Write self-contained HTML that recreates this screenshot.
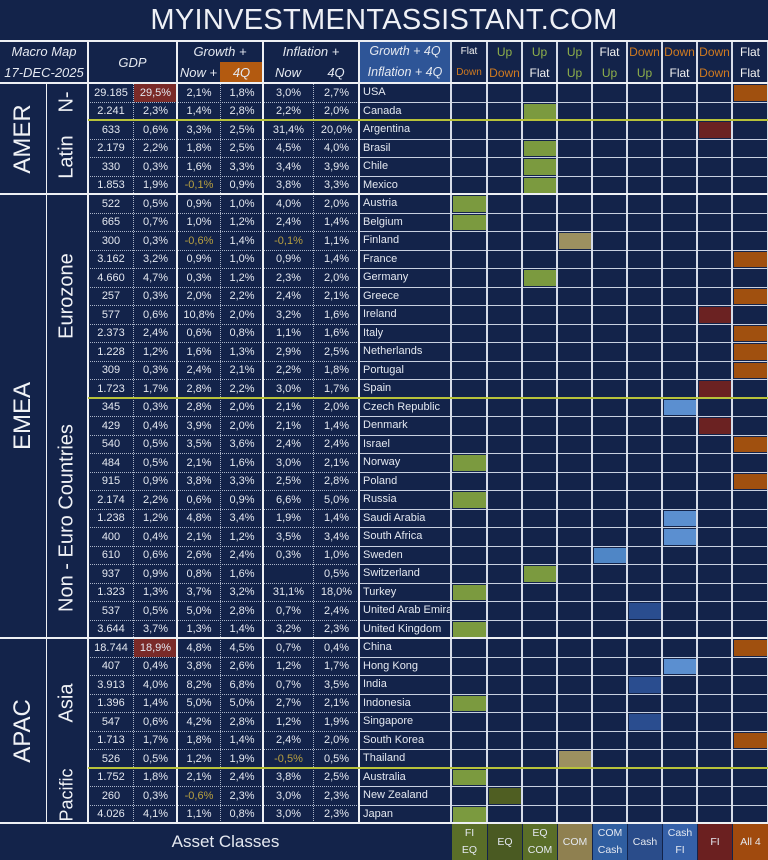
<!DOCTYPE html>
<html><head><meta charset="utf-8">
<style>
html,body{margin:0;padding:0;background:#13234a;}
#root{position:relative;width:768px;height:860px;overflow:hidden;background:#13234a;font-family:"Liberation Sans",sans-serif;color:#e4e8f0;}
.a{position:absolute;box-sizing:border-box;}
.c{display:flex;align-items:center;justify-content:center;}
</style></head><body>
<div id="root">
<div class="a c" style="left:0;top:0;width:768px;height:40px;font-size:29px;letter-spacing:0.3px;color:#eef0f6;">MYINVESTMENTASSISTANT.COM</div>
</div>
<script>
const countries=["USA","Canada","Argentina","Brasil","Chile","Mexico","Austria","Belgium","Finland","France","Germany","Greece","Ireland","Italy","Netherlands","Portugal","Spain","Czech Republic","Denmark","Israel","Norway","Poland","Russia","Saudi Arabia","South Africa","Sweden","Switzerland","Turkey","United Arab Emirat","United Kingdom","China","Hong Kong","India","Indonesia","Singapore","South Korea","Thailand","Australia","New Zealand","Japan"];
const gdp=["29.185","2.241","633","2.179","330","1.853","522","665","300","3.162","4.660","257","577","2.373","1.228","309","1.723","345","429","540","484","915","2.174","1.238","400","610","937","1.323","537","3.644","18.744","407","3.913","1.396","547","1.713","526","1.752","260","4.026"];
const share=["29,5%","2,3%","0,6%","2,2%","0,3%","1,9%","0,5%","0,7%","0,3%","3,2%","4,7%","0,3%","0,6%","2,4%","1,2%","0,3%","1,7%","0,3%","0,4%","0,5%","0,5%","0,9%","2,2%","1,2%","0,4%","0,6%","0,9%","1,3%","0,5%","3,7%","18,9%","0,4%","4,0%","1,4%","0,6%","1,7%","0,5%","1,8%","0,3%","4,1%"];
const growthNow=["2,1%","1,4%","3,3%","1,8%","1,6%","-0,1%","0,9%","1,0%","-0,6%","0,9%","0,3%","2,0%","10,8%","0,6%","1,6%","2,4%","2,8%","2,8%","3,9%","3,5%","2,1%","3,8%","0,6%","4,8%","2,1%","2,6%","0,8%","3,7%","5,0%","1,3%","4,8%","3,8%","8,2%","5,0%","4,2%","1,8%","1,2%","2,1%","-0,6%","1,1%"];
const growth4Q=["1,8%","2,8%","2,5%","2,5%","3,3%","0,9%","1,0%","1,2%","1,4%","1,0%","1,2%","2,2%","2,0%","0,8%","1,3%","2,1%","2,2%","2,0%","2,0%","3,6%","1,6%","3,3%","0,9%","3,4%","1,2%","2,4%","1,6%","3,2%","2,8%","1,4%","4,5%","2,6%","6,8%","5,0%","2,8%","1,4%","1,9%","2,4%","2,3%","0,8%"];
const inflNow=["3,0%","2,2%","31,4%","4,5%","3,4%","3,8%","4,0%","2,4%","-0,1%","0,9%","2,3%","2,4%","3,2%","1,1%","2,9%","2,2%","3,0%","2,1%","2,1%","2,4%","3,0%","2,5%","6,6%","1,9%","3,5%","0,3%","","31,1%","0,7%","3,2%","0,7%","1,2%","0,7%","2,7%","1,2%","2,4%","-0,5%","3,8%","3,0%","3,0%"];
const infl4Q=["2,7%","2,0%","20,0%","4,0%","3,9%","3,3%","2,0%","1,4%","1,1%","1,4%","2,0%","2,1%","1,6%","1,6%","2,5%","1,8%","1,7%","2,0%","1,4%","2,4%","2,1%","2,8%","5,0%","1,4%","3,4%","1,0%","0,5%","18,0%","2,4%","2,3%","0,4%","1,7%","3,5%","2,1%","1,9%","2,0%","0,5%","2,5%","2,3%","2,3%"];
const regime=[8,2,7,2,2,2,0,0,3,8,2,8,7,8,8,8,7,6,7,8,0,8,0,6,6,4,2,0,5,0,8,6,5,0,5,8,3,0,1,0];
const hdrTop=["Flat","Up","Up","Up","Flat","Down","Down","Down","Flat"];
const hdrBot=["Down","Down","Flat","Up","Up","Up","Flat","Down","Flat"];
const footTop=["FI","EQ","EQ","COM","COM","Cash","Cash","FI","All 4"];
const footBot=["EQ","","COM","","Cash","","FI","",""];

const root=document.getElementById('root');
const TOP=83,RH=740/40,NR=40;
const numX=[88,133,177,220,263,313,359];
const flagX=[451,487,522,557,592,627,662,697,732,768];
const cellCol=["#7b9a3f","#4f5e22","#7b9a3f","#9c9060","#4f86c6","#2a4d8f","#5b8fd0","#6b2222","#a0500f"];
const footCol=["#5a6e28","#4a5a22","#5a6e28","#8f8050","#2f5ea0","#2a4c8a","#3560a8","#6b2020","#a04a0e"];
const wordCol=w=>w==="Up"?"#8fb04a":w==="Down"?"#d07a20":"#f2f2f2";
const rowY=i=>TOP+i*RH;
function box(x,y,w,h,css){const d=document.createElement('div');d.className='a';d.style.cssText=`left:${x}px;top:${y}px;width:${w}px;height:${h}px;`+(css||'');root.appendChild(d);return d;}

let d;
d=box(0,41,88,42,'font-size:13px;font-style:italic;line-height:21px;text-align:center;');d.innerHTML="Macro Map<br>17-DEC-2025";


d=box(88,41,89,42,'font-size:13px;font-style:italic;');d.classList.add('c');d.textContent="GDP";


d=box(177,41,86,21,'font-size:13px;font-style:italic;');d.classList.add('c');d.textContent="Growth +";


d=box(177,62,43,21,'font-size:13px;font-style:italic;');d.classList.add('c');d.textContent="Now +";


d=box(220,62,43,21,'font-size:13px;font-style:italic;background:#b35a10;');d.classList.add('c');d.textContent="4Q";


d=box(263,41,96,21,'font-size:13px;font-style:italic;');d.classList.add('c');d.textContent="Inflation +";


d=box(263,62,50,21,'font-size:13px;font-style:italic;');d.classList.add('c');d.textContent="Now";


d=box(313,62,46,21,'font-size:13px;font-style:italic;');d.classList.add('c');d.textContent="4Q";


d=box(359,41,92,42,'font-size:12.5px;font-style:italic;line-height:21px;text-align:center;background:#2e5597;');d.innerHTML="Growth + 4Q<br>Inflation + 4Q";


for(let j=0;j<9;j++){
  const x=flagX[j],w=flagX[j+1]-x;
  d=box(x,41,w,21,`font-size:${j==0?10:12}px;color:${wordCol(hdrTop[j])};`);d.classList.add('c');d.textContent=hdrTop[j];
  
  
  d=box(x,62,w,21,`font-size:${j==0?10:12}px;color:${wordCol(hdrBot[j])};`);d.classList.add('c');d.textContent=hdrBot[j];
  
  
}

const cols=[gdp,share,growthNow,growth4Q,inflNow,infl4Q];
for(let i=0;i<NR;i++){
  const y=rowY(i);
  for(let k=0;k<6;k++){
    const v=cols[k][i];
    let css='font-size:11px;';
    if(v.startsWith('-'))css+='color:#b8a040;';
    if(k==1&&(i==0||i==30))css+='background:#7a2a28;';
    d=box(numX[k]+1,y+1,numX[k+1]-numX[k]-1,RH-1,css);d.classList.add('c');d.textContent=v;
    
    
  }
  d=box(360,y,91,RH,'font-size:11px;display:flex;align-items:center;padding-left:3px;white-space:nowrap;overflow:hidden;');d.textContent=countries[i];
  
  
  const j=regime[i];
  d=box(flagX[j]+2,y+2,flagX[j+1]-flagX[j]-3,RH-3,'background:'+cellCol[j]+';');
  
  
}
for(let i=0;i<=NR;i++){
  const y=Math.round(rowY(i));
  box(88,y,271,1,'border-top:1px dotted #aab4c8;');
  box(359,y,409,1,'background:#c8d0e0;');
}
for(let k=1;k<6;k++)box(numX[k],TOP,1,740,'border-left:1px dotted #aab4c8;');
for(let j=0;j<flagX.length;j++)box(flagX[j]-1,41,2,782,'background:#d6dce8;');
box(0,40,768,2,'background:#eef0f4;');
box(0,82,768,2,'background:#eef0f4;');
box(0,822,768,2,'background:#eef0f4;');
[88,177,263,359].forEach(x=>box(x-1,41,2,782,'background:#eef0f4;'));
box(46,TOP,1,740,'background:#eef0f4;');
[2,17,37].forEach(i=>box(88,Math.round(rowY(i))-1,680,2,'background:#b8c23a;'));
[6,30].forEach(i=>box(0,Math.round(rowY(i))-1,768,2,'background:#eef0f4;'));
const regions=[["AMER",0,6,0,46,24],["EMEA",6,30,0,46,24],["APAC",30,40,0,46,24],["N-",0,2,46,42,20],["Latin",2,6,46,42,20],["Eurozone",6,17,46,42,20],["Non - Euro Countries",17,30,46,42,20],["Asia",30,37,46,42,20],["Pacific",37,40,46,42,18]];
regions.forEach(r=>{
  const y0=rowY(r[1]),h=rowY(r[2])-y0;
  const o=box(r[3],y0,r[4],h,'');
  
  
  const s=document.createElement('div');
  s.style.cssText=`position:absolute;left:50%;top:50%;transform:translate(-50%,-50%) rotate(-90deg);white-space:nowrap;font-size:${r[5]}px;color:#f0f2f6;`;
  s.textContent=r[0];o.appendChild(s);
});
d=box(0,824,451,36,'font-size:17px;');d.classList.add('c');d.textContent="Asset Classes";


for(let j=0;j<9;j++){
  const x=flagX[j],w=flagX[j+1]-x-1;
  d=box(x+1,824,w,36,'background:'+footCol[j]+';font-size:10.5px;line-height:17px;text-align:center;flex-direction:column;');d.classList.add('c');
  d.innerHTML=footTop[j]+(footBot[j]?'<br>'+footBot[j]:'');
  
  
}
</script>
</body></html>
